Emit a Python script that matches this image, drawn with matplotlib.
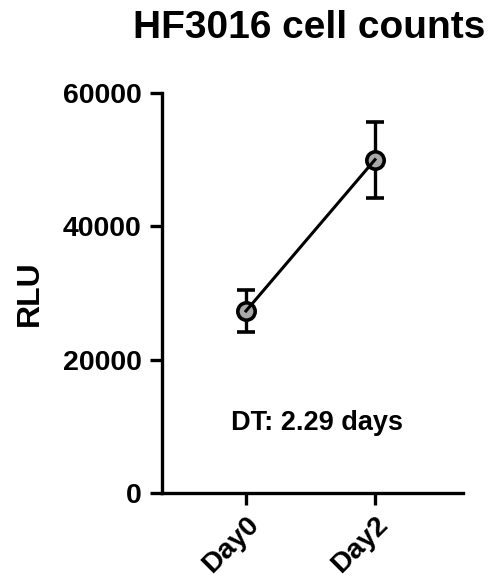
import matplotlib
matplotlib.use("Agg")
import matplotlib.pyplot as plt

plt.rcParams['font.family'] = ['Liberation Sans', 'DejaVu Sans']
plt.rcParams['font.weight'] = 'bold'

days = ["Day0", "Day2"]
rlu_mean = [27300, 50000]
rlu_err = [3200, 5700]
dt_text = "DT: 2.29 days"

fig = plt.figure(figsize=(4.93, 5.88), dpi=100)
ax = fig.add_axes([0.3286, 0.1616, 0.6104, 0.6802])

x = list(range(len(days)))
# markers + error bars first, then the connecting line goes over the markers
ax.errorbar(x, rlu_mean, yerr=rlu_err, fmt="o", color="black", capsize=6.5,
            capthick=2.4, elinewidth=2.4, markersize=12.5,
            markerfacecolor="#a8a8a8", markeredgecolor="black",
            markeredgewidth=2.6, zorder=3)
ax.plot(x, rlu_mean, color="black", lw=2.2, zorder=4)

ax.set_xlim(-0.651, 1.682)
ax.set_ylim(0, 60000)
ax.set_yticks([0, 20000, 40000, 60000])
ax.set_xticks(x)
ax.set_xticklabels(days, rotation=45, ha="right", rotation_mode="anchor")

for s in ["top", "right"]:
    ax.spines[s].set_visible(False)
for s in ["left", "bottom"]:
    ax.spines[s].set_linewidth(2.4)
ax.tick_params(width=2.4, length=8.5, labelsize=20.5)
ax.tick_params(axis="y", pad=6)
ax.tick_params(axis="x", pad=5)
for lbl in ax.get_xticklabels() + ax.get_yticklabels():
    lbl.set_fontweight("bold")

ax.set_ylabel("RLU", fontsize=23, fontweight="bold", labelpad=13)
ax.text(0.55, 10500, dt_text, fontsize=19.5, fontweight="bold", ha="center", va="center")
fig.text(0.628, 0.953, "HF3016 cell counts", fontsize=28, fontweight="bold",
         ha="center", va="center")

fig.savefig("out.png", dpi=100)
